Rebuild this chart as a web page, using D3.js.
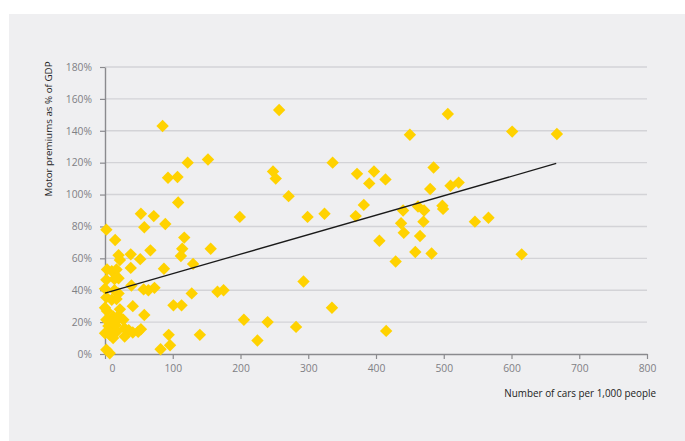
<!DOCTYPE html>
<html>
<head>
<meta charset="utf-8">
<script src="https://cdn.jsdelivr.net/npm/d3@7"></script>
<style>
  body { margin: 0; background: #fff; }
  svg { display: block; }
</style>
</head>
<body>
<svg></svg>
<script>
// Chart data: cars per 1,000 people vs motor premiums (% of GDP)
const carsPer1000 = [
  2, 15, 20, 22, 3, 10, 17, 20, 2, 14, 0, 14, 20, 2, 10, 17, 0, 3, 22, 12,
  2, 8, 15, 27, 5, 10, 16, 0, 7, 12, 17, 2, 7, 20,
  38, 52, 38, 67, 58, 53, 72, 89, 87, 39, 57, 64, 73, 41, 58, 29, 35, 49, 53, 29,
  41, 94, 96, 82, 85,
  93, 107, 108, 122, 152, 117, 114, 112, 156, 130, 128, 166, 175, 101, 113, 140, 199,
  205, 240, 225, 282, 293, 335, 257, 248, 252, 271, 299, 324, 370, 382, 336, 372,
  397, 390, 414, 405, 429, 415,
  437, 441, 440, 450, 458, 462, 465, 470, 471, 480, 482, 485, 498, 499, 506, 510,
  522, 546, 566, 601, 615, 667
];
const premiumPct = [
  78, 71.5, 62, 59, 53, 52, 53, 47.5, 46.5, 47, 41, 40, 38, 35.5, 34, 34.5, 29, 27, 28, 23.5,
  21.5, 20, 20, 21.5, 17.5, 16, 18, 13, 12, 10, 14, 2.7, 0.5, 24,
  62.5, 59.5, 54, 65, 79.5, 88, 86.5, 81.5, 53.5, 43, 40.5, 40, 41.5, 30, 24.5, 16, 15, 14, 15.5, 11,
  13.5, 12, 5.5, 3, 143,
  110.5, 111, 95, 120, 122, 73, 66, 61.5, 66, 56.5, 38, 39, 40, 30.5, 30.5, 12, 86,
  21.5, 20, 8.5, 17, 45.5, 29, 153, 114.5, 110, 99, 86, 88, 86.5, 93.5, 120, 113,
  114.5, 107, 109.5, 71, 58, 14.5,
  82, 76, 90, 137.5, 64, 92.5, 74, 83, 90, 103.5, 63, 117, 93, 91, 150.5, 105.5,
  107.5, 83, 85.5, 139.5, 62.5, 138
];
// Linear trend line (start and end)
const trendX = [0, 666];
const trendY = [38.2, 119.5];

const xTicks = [0, 100, 200, 300, 400, 500, 600, 700, 800];
const yTicks = [0, 20, 40, 60, 80, 100, 120, 140, 160, 180];

const W = 685, H = 441;
const svg = d3.select("svg").attr("width", W).attr("height", H);
const font = "'Open Sans', 'DejaVu Sans', sans-serif";

// Panel background
svg.append("rect")
  .attr("x", 9).attr("y", 14)
  .attr("width", W - 9).attr("height", H - 14)
  .attr("fill", "#efeff1");

const x = d3.scaleLinear().domain([0, 800]).range([105, 647]);
const y = d3.scaleLinear().domain([0, 180]).range([354, 67]);

// Gridlines
svg.append("g")
  .selectAll("line")
  .data(yTicks.filter(d => d > 0))
  .join("line")
  .attr("x1", x(0)).attr("x2", x(800))
  .attr("y1", d => y(d)).attr("y2", d => y(d))
  .attr("stroke", "#d3d3d7")
  .attr("stroke-width", 1.4);

// Axes
const xAxis = svg.append("g")
  .attr("transform", `translate(0,${y(0)})`)
  .call(d3.axisBottom(x).tickValues(xTicks).tickSize(5).tickSizeOuter(0).tickPadding(6));

const yAxis = svg.append("g")
  .attr("transform", `translate(${x(0)},0)`)
  .call(d3.axisLeft(y).tickValues(yTicks).tickSize(5).tickSizeOuter(0).tickPadding(8)
    .tickFormat(d => d + "%"));

[xAxis, yAxis].forEach(g => {
  g.select(".domain").attr("stroke", "#8a8a8e").attr("stroke-width", 1.4);
  g.selectAll(".tick line").attr("stroke", "#8a8a8e").attr("stroke-width", 1.2);
  g.selectAll(".tick text")
    .attr("fill", "#808085")
    .style("font-family", font)
    .style("font-size", "10.3px");
});
// the "0" label sits a little to the right of its tick
xAxis.selectAll(".tick text").filter(d => d === 0).attr("x", 7);

// Points (diamonds)
const pts = carsPer1000.map((c, i) => [c, premiumPct[i]]);
const r = 6.2;
svg.append("g")
  .selectAll("path")
  .data(pts)
  .join("path")
  .attr("transform", d => `translate(${x(d[0])},${y(d[1])})`)
  .attr("d", `M0,${-r}L${r},0L0,${r}L${-r},0Z`)
  .attr("fill", "#ffd200");

// Trend line
svg.append("line")
  .attr("x1", x(trendX[0])).attr("y1", y(trendY[0]))
  .attr("x2", x(trendX[1])).attr("y2", y(trendY[1]))
  .attr("stroke", "#1a1a1a")
  .attr("stroke-width", 1.3);

// Axis titles
svg.append("text")
  .attr("transform", `translate(52,129) rotate(-90)`)
  .attr("text-anchor", "middle")
  .attr("fill", "#222")
  .style("font-family", font)
  .style("font-size", "9.8px")
  .text("Motor premiums as % of GDP");

svg.append("text")
  .attr("x", 656).attr("y", 397)
  .attr("text-anchor", "end")
  .attr("fill", "#222")
  .style("font-family", font)
  .style("font-size", "9.9px")
  .text("Number of cars per 1,000 people");
</script>
</body>
</html>
